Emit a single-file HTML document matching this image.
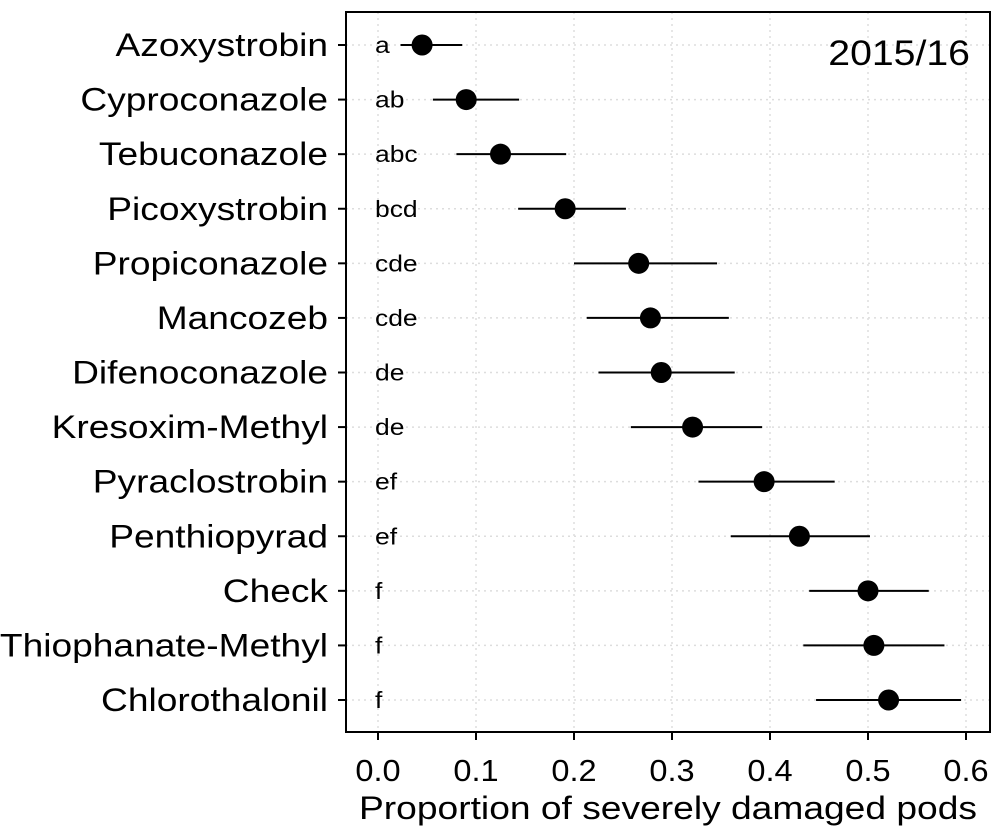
<!DOCTYPE html>
<html><head><meta charset="utf-8"><style>body{margin:0;background:#fff}svg{display:block;font-family:"Liberation Sans",sans-serif}</style></head>
<body>
<svg id="c" width="1003" height="826"></svg>
<script>
const categories=["Azoxystrobin","Cyproconazole","Tebuconazole","Picoxystrobin","Propiconazole","Mancozeb","Difenoconazole","Kresoxim-Methyl","Pyraclostrobin","Penthiopyrad","Check","Thiophanate-Methyl","Chlorothalonil"];
const means=[0.045,0.090,0.125,0.191,0.266,0.278,0.289,0.321,0.394,0.430,0.500,0.506,0.521];
const lower=[0.023,0.056,0.080,0.143,0.200,0.213,0.225,0.258,0.327,0.360,0.440,0.434,0.447];
const upper=[0.086,0.144,0.192,0.253,0.346,0.358,0.364,0.392,0.466,0.502,0.562,0.578,0.595];
const letters=["a","ab","abc","bcd","cde","cde","de","de","ef","ef","f","f","f"];
const xTicks=[0,0.1,0.2,0.3,0.4,0.5,0.6];
const xTickLabels=["0.0","0.1","0.2","0.3","0.4","0.5","0.6"];
const svg=document.getElementById('c');const NS="http://www.w3.org/2000/svg";
const L=346,R=990,T=12,B=732;
const x=v=>378+v*980;
const y=i=>45+i*(655/12);
function el(t,a,txt){const e=document.createElementNS(NS,t);for(const k in a)e.setAttribute(k,a[k]);if(txt!=null)e.textContent=txt;svg.appendChild(e);return e;}
function widen(e,s){const w=e.getComputedTextLength();e.setAttribute('textLength',w*s);e.setAttribute('lengthAdjust','spacingAndGlyphs');}
xTicks.forEach((v,i)=>{let g=el('line',{x1:x(v),x2:x(v),y1:T,y2:B,stroke:'#ddd','stroke-width':1.5,'stroke-dasharray':'2,4'});});
categories.forEach((c,i)=>{let g=el('line',{x1:L,x2:R,y1:y(i),y2:y(i),stroke:'#ddd','stroke-width':1.5,'stroke-dasharray':'2,4'});});
let fr=el('rect',{x:L,y:T,width:R-L,height:B-T,fill:'none',stroke:'#000','stroke-width':2});

categories.forEach((c,i)=>{
 let t=el('line',{x1:338,x2:L,y1:y(i),y2:y(i),stroke:'#000','stroke-width':2});
 let lb=el('text',{x:328,y:y(i)+11,'text-anchor':'end','font-size':32,fill:'#000'},c);
 widen(lb,1.16);
 let lt=el('text',{x:375,y:y(i)+8,'font-size':23,fill:'#000'},letters[i]);
 widen(lt,1.15);
 let eb=el('line',{x1:x(lower[i]),x2:x(upper[i]),y1:y(i),y2:y(i),stroke:'#000','stroke-width':2});
 let p=el('circle',{cx:x(means[i]),cy:y(i),r:10.5,fill:'#000'});
});
xTicks.forEach((v,i)=>{
 let t=el('line',{x1:x(v),x2:x(v),y1:B,y2:B+8,stroke:'#000','stroke-width':2});
 let lb=el('text',{x:x(v),y:781,'text-anchor':'middle','font-size':31,fill:'#000'},xTickLabels[i]);
 widen(lb,1.05);
});
let xt=el('text',{x:668,y:819,'text-anchor':'middle','font-size':32,fill:'#000'},'Proportion of severely damaged pods');

xt.setAttribute('textLength',618);xt.setAttribute('lengthAdjust','spacingAndGlyphs');
let yr=el('text',{x:970,y:65,'text-anchor':'end','font-size':35,fill:'#000'},'2015/16');

widen(yr,1.12);
</script>
</body></html>
